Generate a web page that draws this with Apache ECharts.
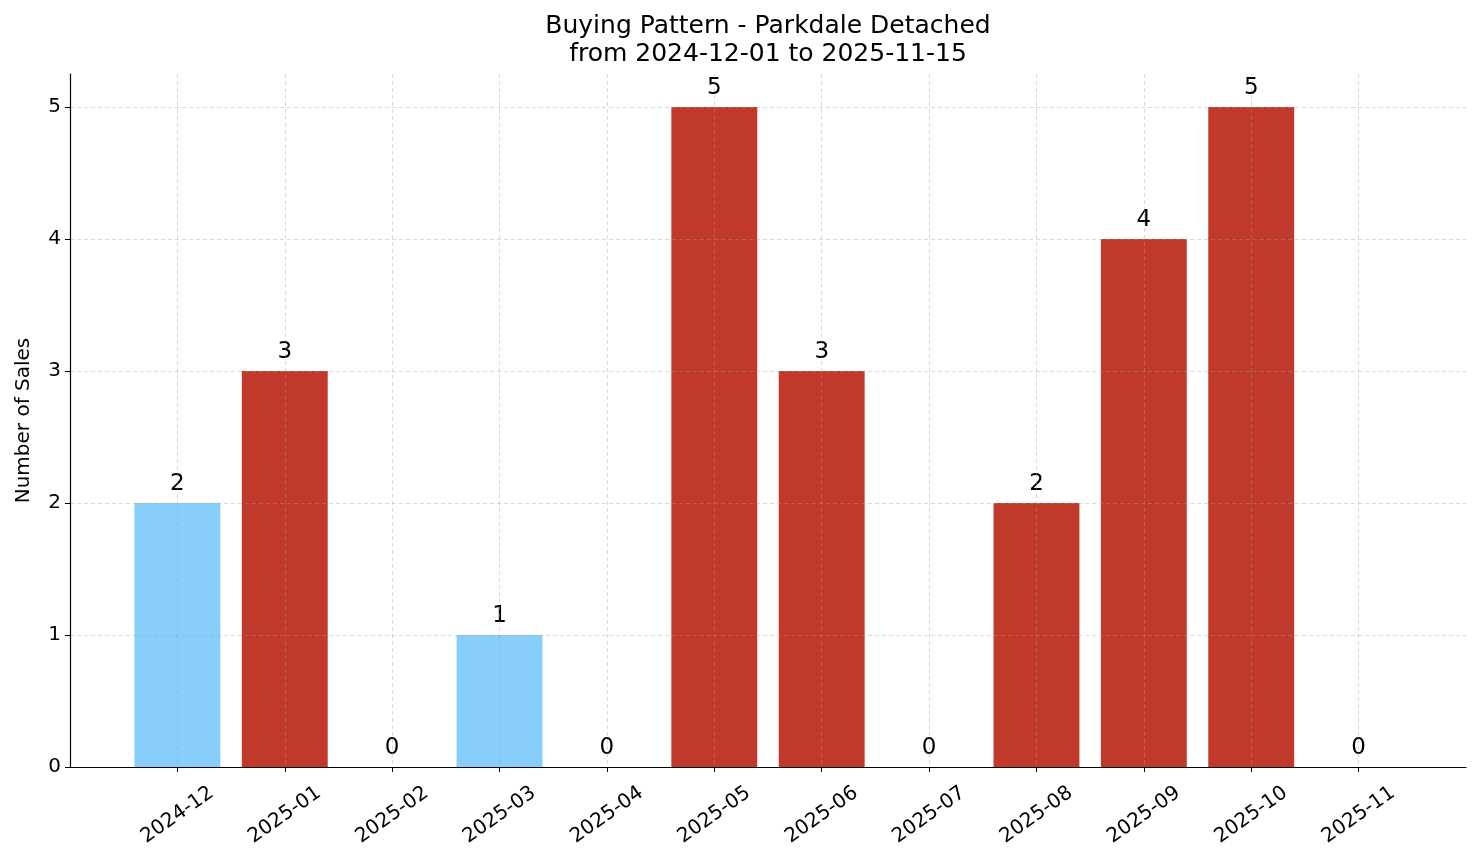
<!DOCTYPE html>
<html>
<head>
<meta charset="utf-8">
<script src="https://cdn.jsdelivr.net/npm/echarts@6/dist/echarts.min.js"></script>
<style>html,body{margin:0;padding:0;background:#fff}#c{width:1481px;height:863px}</style>
</head>
<body>
<div id="c"></div>
<script>
const months = ['2024-12','2025-01','2025-02','2025-03','2025-04','2025-05','2025-06','2025-07','2025-08','2025-09','2025-10','2025-11'];
const sales = [2, 3, 0, 1, 0, 5, 3, 0, 2, 4, 5, 0];
const highlight = ['low','high','high','low','high','high','high','high','high','high','high','high'];
const yTicks = [0, 1, 2, 3, 4, 5];
const titleText = 'Buying Pattern - Parkdale Detached\nfrom 2024-12-01 to 2025-11-15';
const yName = 'Number of Sales';

const colorMap = { low: '#87CEFA', high: '#C0392B' };
const FONT = 'DejaVu Sans';
const axisCats = [''].concat(months, ['']);
const n = axisCats.length;

const chart = echarts.init(document.getElementById('c'), null, { renderer: 'canvas' });
chart.setOption({
  animation: false,
  backgroundColor: '#fff',
  textStyle: { fontFamily: FONT },
  title: {
    text: titleText,
    left: 768,
    textAlign: 'center',
    top: 12,
    padding: 0,
    textStyle: { fontFamily: FONT, fontSize: 25, fontWeight: 'normal', color: '#000', lineHeight: 28 }
  },
  grid: { left: 70, right: 15, top: 74, bottom: 96, containLabel: false },
  xAxis: {
    type: 'category',
    data: axisCats,
    boundaryGap: false,
    z: 5,
    axisLine: { show: true, lineStyle: { color: '#000', width: 1.2 } },
    axisTick: { show: true, length: 5, lineStyle: { color: '#000', width: 1 }, interval: (i) => i > 0 && i < n - 1 },
    axisLabel: {
      interval: 0, rotate: 35, align: 'center', verticalAlign: 'middle', margin: 48,
      fontFamily: FONT, fontSize: 20, color: '#000'
    },
    splitLine: { show: true, interval: (i) => i > 0 && i < n - 1, lineStyle: { color: 'rgba(160,160,160,0.5)', type: [4, 3], width: 0.8 } }
  },
  yAxis: {
    type: 'value',
    min: 0, max: 5.25, interval: 1,
    z: 5,
    name: yName,
    nameLocation: 'middle',
    nameGap: 36,
    nameTextStyle: { fontFamily: FONT, fontSize: 20, color: '#000' },
    axisLine: { show: true, lineStyle: { color: '#000', width: 1.2 } },
    axisTick: { show: true, length: 5, lineStyle: { color: '#000', width: 1 } },
    axisLabel: {
      fontFamily: FONT, fontSize: 20, color: '#000', margin: 9, showMaxLabel: false,
      formatter: (v) => (yTicks.indexOf(v) >= 0 ? String(v) : '')
    },
    splitLine: { show: true, showMaxLine: false, lineStyle: { color: 'rgba(160,160,160,0.5)', type: [4, 3], width: 0.8 } }
  },
  series: [{
    type: 'bar',
    barWidth: '80%',
    z: 2,
    data: sales.map((v, i) => ({ value: [i + 1, v], itemStyle: { color: colorMap[highlight[i]] } })),
    label: {
      show: true, position: 'top', distance: 7,
      fontFamily: FONT, fontSize: 23, color: '#000',
      formatter: (p) => String(p.value[1])
    }
  }]
});
</script>
</body>
</html>
